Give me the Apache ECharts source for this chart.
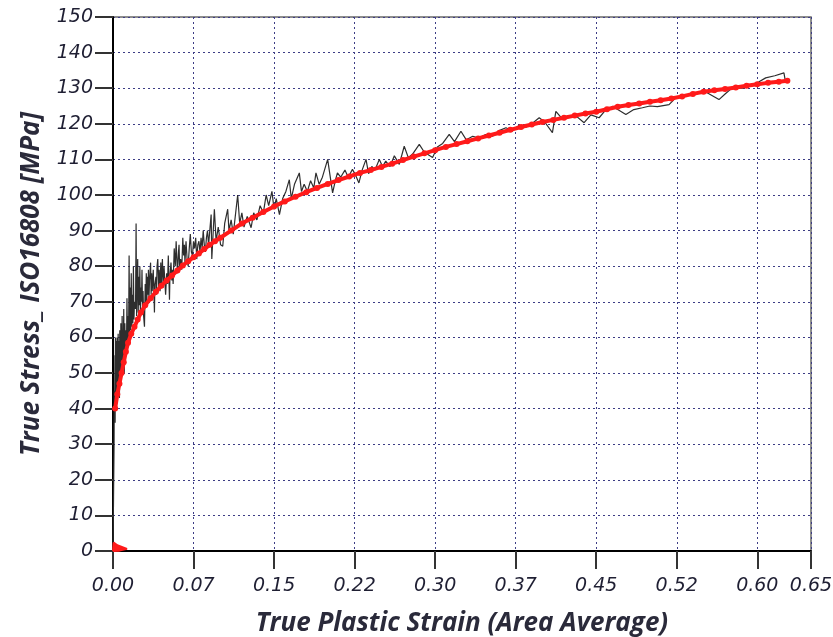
<!DOCTYPE html>
<html>
<head>
<meta charset="utf-8">
<script src="https://cdn.jsdelivr.net/npm/echarts@6/dist/echarts.min.js"></script>
<style>
html,body{margin:0;padding:0;background:#fff;}
#chart{width:833px;height:637px;}
</style>
</head>
<body>
<div id="chart"></div>
<script>
// ---- data ----
const xAxisName = 'True Plastic Strain (Area Average)';
const yAxisName = 'True Stress_ ISO16808 [MPa]';
const xTickLabels = ['0.00','0.07','0.15','0.22','0.30','0.37','0.45','0.52','0.60','0.65'];
const yTickLabels = ['0','10','20','30','40','50','60','70','80','90','100','110','120','130','140','150'];

// measured (noisy) curve: strain / stress
const measuredStrain = [0,0.0005,0.001,0.0012,0.0015,0.0018,0.002,0.0023,0.0025,0.0028,0.003,0.0033,0.0035,0.0038,0.004,0.0043,0.0045,0.0048,0.005,0.0053,0.0055,0.0058,0.006,0.0063,0.0065,0.0068,0.007,0.0073,0.0075,0.0078,0.008,0.0085,0.009,0.0095,0.0100,0.0105,0.011,0.0115,0.012,0.0125,0.013,0.0135,0.014,0.0145,0.015,0.0155,0.016,0.0165,0.017,0.0175,0.018,0.0185,0.019,0.0195,0.020,0.021,0.0215,0.022,0.0225,0.023,0.0235,0.024,0.0245,0.025,0.0255,0.026,0.0265,0.027,0.0275,0.028,0.0285,0.0293,0.030,0.0305,0.031,0.0315,0.032,0.0325,0.033,0.0335,0.034,0.035,0.0355,0.036,0.0365,0.0375,0.0386,0.039,0.040,0.0405,0.041,0.0417,0.0425,0.043,0.0438,0.0445,0.045,0.046,0.0467,0.0475,0.049,0.050,0.0508,0.0515,0.0526,0.053,0.054,0.0548,0.0555,0.056,0.057,0.058,0.0588,0.060,0.061,0.0615,0.062,0.063,0.064,0.065,0.0658,0.0665,0.067,0.068,0.069,0.070,0.071,0.072,0.073,0.074,0.075,0.076,0.077,0.078,0.079,0.080,0.081,0.082,0.083,0.084,0.085,0.086,0.087,0.088,0.089,0.090,0.0914,0.092,0.0944,0.096,0.098,0.1002,0.1022,0.104,0.1068,0.108,0.110,0.112,0.1161,0.118,0.120,0.122,0.125,0.1286,0.131,0.134,0.137,0.140,0.1426,0.145,0.148,0.150,0.152,0.155,0.158,0.161,0.1642,0.166,0.169,0.1735,0.1755,0.178,0.181,0.184,0.187,0.189,0.192,0.195,0.1999,0.2045,0.207,0.209,0.212,0.216,0.219,0.223,0.226,0.229,0.232,0.2356,0.238,0.241,0.244,0.248,0.251,0.254,0.258,0.262,0.2666,0.2712,0.275,0.279,0.2852,0.290,0.2976,0.302,0.307,0.3131,0.318,0.324,0.329,0.335,0.341,0.347,0.3534,0.359,0.3659,0.372,0.378,0.384,0.390,0.3969,0.402,0.4092,0.4124,0.418,0.424,0.430,0.4387,0.445,0.4527,0.4577,0.462,0.4651,0.4776,0.485,0.493,0.500,0.507,0.5178,0.524,0.530,0.5364,0.5433,0.5504,0.5643,0.5705,0.5767,0.5864,0.5953,0.6016,0.6078,0.6163,0.6248,0.6264,0.628];
const measuredStress = [0,15,30,45,38,55,36,60,42,57,40,59,45,60,44,58,48,61,47,55,46,59,43,62,50,57,49,64,52,60,51,66,54,53,68,50,64,55,62,55,71,58,66,59,83,60,74,62,78,63,72,64,80,65,70,68,92,66,75,82,67,77,69,80,67,74,70,79,68,73,66,63,75,69,78,70,77,72,79,71,76,81,72,78,73,79,67,75,77,72,80,82,74,79,73,81,75,82,74,80,72,78,75,83,70.6,77,81,76,79,75,85,80,87,78,84,86,80,82,79,88,83,86,81,87,82,80,85,89,84,83,87,85,88,82,86,87,84,88,85,90,86,84,88,90,86,86,94.5,82,96,87,91,86,85.6,92,96,90,93,89,100,92,95,91,94,90.8,95,93,97,95,100,97,101,96,99,94.5,99,101,104.3,99,103,106.2,101,103,101,104,102,106.2,103,105,110,100.6,104,106.2,105,107,105,107.2,105.5,103.4,107,110,106,108,107,110,108,109.5,108,111,108.6,113.7,110.5,111.5,114.2,112,110.5,113.5,114.5,117,115,117.9,115.5,116.5,116,117,116.5,118,118.9,118,119.5,119,120,121.7,120.5,117.5,123.5,121.5,121.8,122.5,120.3,122.5,121.7,123.5,124,124.9,122.6,124,124.5,125,124.8,125.4,127.3,127.8,128.2,128.7,129.2,126.8,128.5,130.1,130,131,131.8,132.9,133.5,134.3,131.5,132.5];

// fitted curve: strain / stress
const fitStrain = [0.002,0.004,0.006,0.008,0.010,0.012,0.014,0.017,0.020,0.023,0.026,0.030,0.035,0.040,0.045,0.050,0.055,0.060,0.065,0.070,0.075,0.080,0.085,0.090,0.095,0.100,0.110,0.120,0.130,0.140,0.150,0.160,0.170,0.180,0.190,0.200,0.210,0.220,0.230,0.240,0.250,0.260,0.270,0.280,0.290,0.300,0.310,0.320,0.330,0.340,0.350,0.360,0.370,0.380,0.390,0.400,0.410,0.420,0.430,0.440,0.450,0.460,0.470,0.480,0.490,0.500,0.510,0.520,0.530,0.540,0.550,0.560,0.570,0.580,0.590,0.600,0.610,0.620,0.628];
const fitStress = [40,44,47,50,53,56,58.5,61,63,65,67,69,71,72.8,74.5,76,77.4,78.8,80.2,81.4,82.5,83.6,84.8,86,87,88,90,92,93.6,95.2,96.8,98.2,99.5,100.8,102,103.1,104.2,105.2,106.2,107,107.9,108.8,109.8,110.8,111.7,112.6,113.5,114.3,115.1,115.9,116.7,117.5,118.3,119.1,119.8,120.5,121.1,121.7,122.3,122.9,123.4,124.1,124.8,125.3,125.7,126.2,126.6,127.1,127.7,128.4,129,129.4,129.8,130.2,130.7,131.1,131.5,131.8,132.1];

// small red blob near the origin
const startStrain = [0,0.0006,0.004,0.013,0.006,0];
const startStress = [0,2.4,1.6,0.6,0.1,0];

// ---- chart ----
const zip = (a, b) => a.map((v, i) => [v, b[i]]);
const tickFont = {fontFamily: 'DejaVu Sans', fontStyle: 'italic', fontSize: 19, color: '#1f1f33'};
const nameFont = {fontFamily: 'Open Sans', fontStyle: 'italic', fontWeight: 'bold', fontSize: 26, color: '#2a2a3a'};
const gridLine = {show: true, lineStyle: {color: '#3c3c85', type: [2, 3], width: 1}};

const chart = echarts.init(document.getElementById('chart'), null, {renderer: 'canvas'});
chart.setOption({
  animation: false,
  backgroundColor: '#ffffff',
  grid: {left: 113, right: 22, top: 17, bottom: 86, show: true, borderColor: '#6a6a6a', borderWidth: 1.5, containLabel: false, outerBoundsMode: 'none'},
  xAxis: {
    type: 'value', min: 0, max: 0.65, interval: 0.075,
    name: xAxisName, nameLocation: 'middle', nameGap: 60, nameMoveOverlap: false, nameTextStyle: nameFont,
    axisLine: {show: true, onZero: false, lineStyle: {color: '#000', width: 2}},
    axisTick: {show: true, length: 18, lineStyle: {color: '#333', width: 2}},
    axisLabel: Object.assign({margin: 26, formatter: (v, i) => xTickLabels[i]}, tickFont),
    splitLine: gridLine
  },
  yAxis: {
    type: 'value', min: 0, max: 150, interval: 10,
    name: yAxisName, nameLocation: 'middle', nameGap: 68, nameMoveOverlap: false, nameTextStyle: nameFont,
    axisLine: {show: true, onZero: false, lineStyle: {color: '#000', width: 2}},
    axisTick: {show: true, length: 18, lineStyle: {color: '#333', width: 2}},
    axisLabel: Object.assign({margin: 20, formatter: (v, i) => yTickLabels[i]}, tickFont),
    splitLine: gridLine
  },
  series: [
    {
      name: 'measured', type: 'line', data: zip(measuredStrain, measuredStress),
      showSymbol: false, symbol: 'none', z: 3,
      lineStyle: {color: '#2e2e2e', width: 1.2}
    },
    {
      name: 'fit', type: 'line', data: zip(fitStrain, fitStress),
      symbol: 'circle', symbolSize: 6, showSymbol: true, z: 4,
      itemStyle: {color: '#ff1a1a'},
      lineStyle: {color: '#ff1a1a', width: 4}
    },
    {
      name: 'start', type: 'line', data: zip(startStrain, startStress),
      symbol: 'none', z: 4,
      lineStyle: {color: '#ff1a1a', width: 2},
      areaStyle: {color: '#ff1a1a', opacity: 1, origin: 'start'}
    }
  ]
});
</script>
</body>
</html>
